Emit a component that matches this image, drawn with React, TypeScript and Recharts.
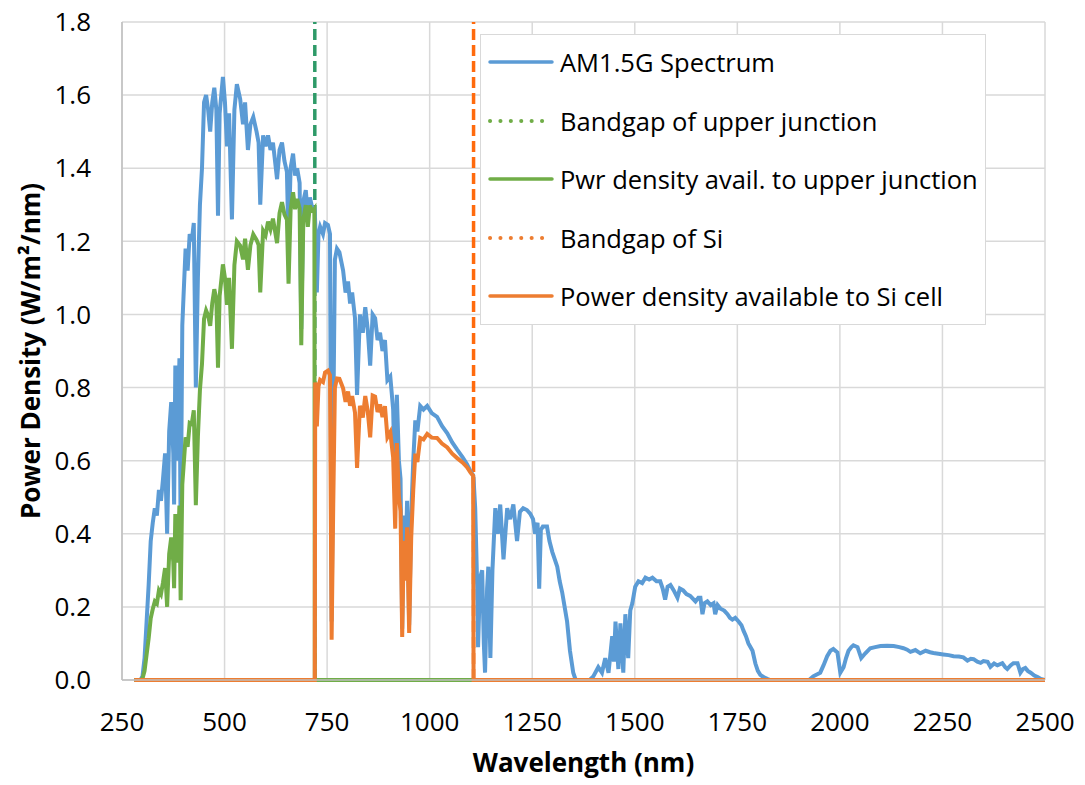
import { LineChart, Line, XAxis, YAxis, CartesianGrid, ReferenceLine } from "recharts";

// AM1.5G spectrum
const spectrumWl = [
  280, 295, 300, 305, 310, 315, 320, 325, 330, 335, 340, 345, 350, 355, 360, 365, 370, 375, 377, 380,
  385, 390, 393, 397, 400, 405, 410, 415, 420, 425, 430, 435, 440, 445, 450, 455, 460, 465, 470, 475,
  480, 484, 488, 492, 496, 501, 506, 511, 518, 524, 530, 538, 545, 550, 557, 563, 570, 578, 583, 587,
  594, 600, 606, 612, 618, 628, 634, 640, 646, 652, 656, 661, 667, 672, 677, 683, 687, 692, 698, 703,
  708, 712, 716, 719, 720, 721, 725, 729, 733, 740, 745, 752, 757, 761, 765, 769, 774, 780, 789, 795,
  801, 806, 811, 818, 823, 830, 837, 843, 849, 855, 861, 867, 873, 879, 885, 891, 897, 904, 911, 916,
  920, 925, 929, 933, 937, 941, 945, 950, 955, 960, 965, 970, 977, 985, 994, 1005, 1018, 1030, 1043, 1055,
  1067, 1080, 1091, 1100, 1106, 1107, 1111, 1116, 1118, 1123, 1128, 1132, 1135, 1140, 1143, 1148, 1153, 1160, 1166, 1172,
  1180, 1189, 1196, 1204, 1213, 1220, 1228, 1237, 1245, 1252, 1257, 1263, 1267, 1271, 1276, 1286, 1292, 1299, 1305, 1311,
  1317, 1323, 1329, 1335, 1342, 1350, 1356, 1390, 1399, 1411, 1420, 1428, 1436, 1445, 1449, 1453, 1460, 1465, 1472, 1477,
  1484, 1489, 1494, 1501, 1509, 1518, 1526, 1535, 1543, 1553, 1562, 1568, 1574, 1580, 1587, 1595, 1604, 1610, 1618, 1626,
  1635, 1648, 1655, 1660, 1665, 1670, 1677, 1685, 1692, 1696, 1702, 1709, 1718, 1726, 1732, 1738, 1745, 1753, 1760, 1765,
  1771, 1777, 1787, 1794, 1800, 1806, 1815, 1823, 1830, 1925, 1935, 1952, 1960, 1969, 1977, 1984, 1994, 2001, 2009, 2015,
  2021, 2028, 2033, 2043, 2052, 2062, 2074, 2086, 2099, 2115, 2131, 2145, 2155, 2164, 2172, 2184, 2196, 2209, 2220, 2228,
  2240, 2252, 2265, 2277, 2290, 2301, 2311, 2319, 2326, 2335, 2343, 2350, 2360, 2367, 2376, 2384, 2396, 2403, 2408, 2416,
  2423, 2433, 2440, 2446, 2452, 2458, 2465, 2474, 2482, 2490, 2500,
];
const spectrumVal = [
  0, 0, 0.01, 0.06, 0.16, 0.26, 0.38, 0.43, 0.47, 0.45, 0.52, 0.49, 0.55, 0.62, 0.4, 0.68, 0.76, 0.62, 0.48, 0.86,
  0.6, 0.88, 0.4, 0.97, 1.05, 1.18, 1.12, 1.22, 1.2, 1.25, 0.8, 1.1, 1.3, 1.4, 1.58, 1.6, 1.56, 1.5, 1.58, 1.62,
  1.56, 1.27, 1.55, 1.6, 1.65, 1.58, 1.46, 1.55, 1.26, 1.56, 1.63, 1.59, 1.52, 1.58, 1.45, 1.52, 1.54, 1.5, 1.47, 1.3,
  1.49, 1.46, 1.49, 1.45, 1.47, 1.37, 1.45, 1.47, 1.42, 1.39, 1.19, 1.4, 1.44, 1.38, 1.4, 1.36, 0.96, 1.31, 1.34, 1.27,
  1.32, 1.3, 1.29, 1.29, 1.28, 1.25, 1.06, 1.22, 1.24, 1.22, 1.25, 1.245, 1.22, 0.16, 0.7, 1.15, 1.18, 1.17, 1.12, 1.06,
  1.09, 1.03, 1.06, 0.99, 0.78, 1.0, 0.95, 1.02, 0.96, 0.86, 1.0, 0.99, 0.93, 0.95, 0.9, 0.93, 0.82, 0.83, 0.74, 0.5,
  0.78, 0.6, 0.55, 0.14, 0.45, 0.32, 0.49, 0.15, 0.45, 0.6, 0.71, 0.68, 0.75, 0.74, 0.75, 0.73, 0.72, 0.695, 0.675, 0.65,
  0.63, 0.61, 0.59, 0.57, 0.56, 0.55, 0.47, 0.25, 0.09, 0.28, 0.3, 0.1, 0.02, 0.25, 0.31, 0.06, 0.3, 0.47, 0.4, 0.48,
  0.33, 0.47, 0.44, 0.48, 0.38, 0.46, 0.47, 0.465, 0.455, 0.44, 0.4, 0.43, 0.25, 0.41, 0.42, 0.42, 0.38, 0.35, 0.33, 0.31,
  0.27, 0.24, 0.2, 0.16, 0.08, 0.02, 0, 0, 0.01, 0.035, 0.02, 0.06, 0.02, 0.12, 0.05, 0.16, 0.03, 0.155, 0.02, 0.18,
  0.06, 0.19, 0.21, 0.255, 0.27, 0.265, 0.28, 0.275, 0.28, 0.27, 0.27, 0.25, 0.22, 0.255, 0.26, 0.245, 0.225, 0.25, 0.245, 0.235,
  0.23, 0.215, 0.225, 0.225, 0.18, 0.21, 0.215, 0.205, 0.21, 0.18, 0.205, 0.195, 0.19, 0.18, 0.17, 0.165, 0.17, 0.16, 0.15, 0.135,
  0.12, 0.1, 0.08, 0.045, 0.025, 0.014, 0.007, 0.003, 0, 0, 0.01, 0.02, 0.04, 0.065, 0.08, 0.085, 0.075, 0.02, 0.035, 0.06,
  0.08, 0.09, 0.095, 0.09, 0.06, 0.073, 0.087, 0.09, 0.093, 0.094, 0.093, 0.09, 0.087, 0.083, 0.077, 0.082, 0.073, 0.08, 0.076, 0.074,
  0.072, 0.07, 0.068, 0.065, 0.064, 0.062, 0.053, 0.058, 0.057, 0.05, 0.047, 0.052, 0.05, 0.036, 0.045, 0.04, 0.046, 0.035, 0.03, 0.04,
  0.046, 0.046, 0.02, 0.03, 0.033, 0.025, 0.02, 0.012, 0.008, 0.003, 0,
];

// power density available to the upper junction
const upperWl = [
  280, 295, 300, 305, 310, 315, 320, 325, 330, 335, 340, 345, 350, 355, 360, 365, 370, 375, 377, 380,
  385, 390, 393, 397, 400, 405, 410, 415, 420, 425, 430, 435, 440, 445, 450, 455, 460, 465, 470, 475,
  480, 484, 488, 492, 496, 501, 506, 511, 518, 524, 530, 538, 545, 550, 557, 563, 570, 578, 583, 587,
  594, 600, 606, 612, 618, 628, 634, 640, 646, 652, 656, 661, 667, 672, 677, 683, 687, 692, 698, 703,
  708, 712, 716, 719, 720, 2500,
];
const upperVal = [
  0, 0, 0.004, 0.025, 0.07, 0.114, 0.169, 0.194, 0.215, 0.209, 0.245, 0.235, 0.267, 0.306, 0.2, 0.345, 0.39, 0.323, 0.251, 0.454,
  0.321, 0.477, 0.218, 0.535, 0.583, 0.664, 0.638, 0.703, 0.7, 0.738, 0.478, 0.665, 0.794, 0.865, 0.988, 1.011, 0.997, 0.969, 1.031, 1.069,
  1.04, 0.854, 1.051, 1.093, 1.137, 1.099, 1.026, 1.1, 0.906, 1.135, 1.2, 1.188, 1.151, 1.207, 1.122, 1.189, 1.219, 1.204, 1.19, 1.06,
  1.229, 1.217, 1.254, 1.233, 1.262, 1.195, 1.277, 1.307, 1.274, 1.259, 1.084, 1.285, 1.334, 1.288, 1.316, 1.29, 0.916, 1.259, 1.299, 1.24,
  1.298, 1.286, 1.283, 1.288, 0, 0,
];

// power density available to the Si cell
const siWl = [
  280, 720, 721, 725, 729, 733, 740, 745, 752, 757, 761, 765, 769, 774, 780, 789, 795, 801, 806, 811,
  818, 823, 830, 837, 843, 849, 855, 861, 867, 873, 879, 885, 891, 897, 904, 911, 916, 920, 925, 929,
  933, 937, 941, 945, 950, 955, 960, 965, 970, 977, 985, 994, 1005, 1018, 1030, 1043, 1055, 1067, 1080, 1091,
  1100, 1106, 1107, 2500,
];
const siVal = [
  0, 0, 0.814, 0.694, 0.803, 0.821, 0.815, 0.841, 0.846, 0.834, 0.11, 0.484, 0.799, 0.825, 0.824, 0.798, 0.761, 0.789, 0.75, 0.777,
  0.731, 0.58, 0.75, 0.718, 0.777, 0.736, 0.664, 0.778, 0.775, 0.733, 0.754, 0.719, 0.749, 0.664, 0.678, 0.609, 0.414, 0.648, 0.501, 0.462,
  0.118, 0.381, 0.272, 0.418, 0.129, 0.388, 0.52, 0.619, 0.596, 0.662, 0.658, 0.673, 0.663, 0.662, 0.647, 0.636, 0.619, 0.607, 0.595, 0.582,
  0.567, 0.559, 0, 0,
];

const upperBandgap = 720;
const siBandgap = 1107;

const xTicks = [250, 500, 750, 1000, 1250, 1500, 1750, 2000, 2250, 2500];
const yTicks = [0, 0.2, 0.4, 0.6, 0.8, 1.0, 1.2, 1.4, 1.6, 1.8];

const legendItems = [
  { name: "AM1.5G Spectrum", color: "#5b9bd5", dotted: false },
  { name: "Bandgap of upper junction", color: "#70ad47", dotted: true },
  { name: "Pwr density avail. to upper junction", color: "#70ad47", dotted: false },
  { name: "Bandgap of Si", color: "#ed7d31", dotted: true },
  { name: "Power density available to Si cell", color: "#ed7d31", dotted: false },
];

const toPoints = (wl: number[], val: number[]) => wl.map((w, i) => ({ wl: w, v: val[i] }));

const spectrum = toPoints(spectrumWl, spectrumVal);
const upper = toPoints(upperWl, upperVal);
const si = toPoints(siWl, siVal);

const font = "'Open Sans', sans-serif";

export default function App() {
  return (
    <div style={{ position: "absolute", left: 0, top: 0, width: 1085, height: 785, background: "#fff", fontFamily: font }}>
      <LineChart width={1085} height={785} margin={{ top: 22, right: 40, bottom: 0, left: 0 }}>
        <CartesianGrid stroke="#d9d9d9" strokeWidth={1.5} />
        <XAxis
          dataKey="wl"
          type="number"
          domain={[250, 2500]}
          ticks={xTicks}
          allowDataOverflow
          height={105}
          tickLine={false}
          tickSize={0}
          tickMargin={33}
          axisLine={{ stroke: "#bfbfbf", strokeWidth: 1.5 }}
          tick={{ fill: "#000", fontSize: 26, fontFamily: font }}
          label={{
            content: ({ viewBox }: any) => (
              <text
                x={viewBox.x + viewBox.width / 2}
                y={772}
                textAnchor="middle"
                fontSize={26}
                fontWeight="bold"
                fontFamily={font}
                fill="#000"
              >
                Wavelength (nm)
              </text>
            ),
          }}
        />
        <YAxis
          type="number"
          domain={[0, 1.8]}
          ticks={yTicks}
          width={122}
          tickLine={false}
          tickSize={0}
          tickMargin={31}
          axisLine={{ stroke: "#bfbfbf", strokeWidth: 1.5 }}
          tick={{ fill: "#000", fontSize: 26, fontFamily: font }}
          tickFormatter={(v: number) => v.toFixed(1)}
          label={{
            content: ({ viewBox }: any) => {
              const cx = 30;
              const cy = viewBox.y + viewBox.height / 2;
              return (
                <text
                  x={cx}
                  y={cy}
                  transform={`rotate(-90 ${cx} ${cy})`}
                  textAnchor="middle"
                  dominantBaseline="central"
                  fontSize={26}
                  fontWeight="bold"
                  fontFamily={font}
                  fill="#000"
                >
                  Power Density (W/m²/nm)
                </text>
              );
            },
          }}
        />
        <ReferenceLine x={upperBandgap} stroke="#2e9a68" strokeWidth={3.5} strokeDasharray="11 5" />
        <ReferenceLine x={siBandgap} stroke="#ff6a0d" strokeWidth={3.5} strokeDasharray="11 5" />
        <Line data={spectrum} dataKey="v" stroke="#5b9bd5" strokeWidth={4} dot={false} activeDot={false} isAnimationActive={false} />
        <Line data={upper} dataKey="v" stroke="#70ad47" strokeWidth={4} dot={false} activeDot={false} isAnimationActive={false} />
        <Line data={si} dataKey="v" stroke="#ed7d31" strokeWidth={4} dot={false} activeDot={false} isAnimationActive={false} />
      </LineChart>

      {/* legend box */}
      <div
        style={{
          position: "absolute",
          left: 480,
          top: 34,
          width: 506,
          height: 291,
          boxSizing: "border-box",
          border: "1.5px solid #d9d9d9",
          background: "#fff",
        }}
      >
        {legendItems.map((item, i) => (
          <div
            key={item.name}
            style={{ position: "absolute", left: 7, top: 27 + i * 58.5 - 18, height: 36, display: "flex", alignItems: "center" }}
          >
            <svg width={66} height={10} style={{ marginRight: 6 }}>
              <line
                x1={2}
                y1={5}
                x2={64}
                y2={5}
                stroke={item.color}
                strokeWidth={item.dotted ? 4 : 3.5}
                strokeLinecap="round"
                strokeDasharray={item.dotted ? "0.1 10.3" : undefined}
              />
            </svg>
            <span style={{ fontSize: 25.5, color: "#000", whiteSpace: "nowrap", fontFamily: font }}>{item.name}</span>
          </div>
        ))}
      </div>
    </div>
  );
}
